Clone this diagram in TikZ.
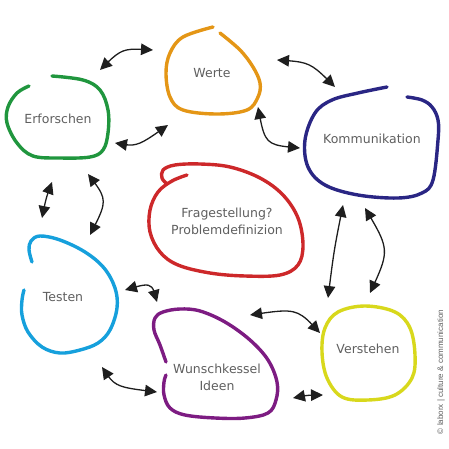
\documentclass[tikz,border=0pt]{standalone}
\usepackage{fontspec}
\setmainfont{DejaVu Sans}
\newfontfamily\copyfont{Liberation Sans}
\usetikzlibrary{arrows.meta,bending}
\definecolor{cWerte}{RGB}{228,150,22}
\definecolor{cErf}{RGB}{32,150,62}
\definecolor{cKomm}{RGB}{42,38,132}
\definecolor{cRed}{RGB}{205,40,42}
\definecolor{cTest}{RGB}{22,160,220}
\definecolor{cWun}{RGB}{125,28,130}
\definecolor{cVer}{RGB}{216,216,28}
\definecolor{cTxt}{RGB}{95,95,95}
\definecolor{cArr}{RGB}{30,30,30}
\tikzset{
  blob/.style={line width=3.4pt, line cap=round, line join=round},
  lbl/.style={text=cTxt, font=\fontsize{12.5}{17}\selectfont, align=center, inner sep=0pt},
  dbl/.style={draw=cArr, line width=1.3pt, {Triangle[length=12pt,width=11.5pt]}-{Triangle[length=12pt,width=11.5pt]}}
}
\begin{document}
\begin{tikzpicture}[x=1pt,y=-1pt]
\useasboundingbox (0,0) rectangle (449,449);
% blobs
\draw[blob,cWerte] plot[smooth,tension=0.6] coordinates {(213,27) (183,37) (170,53) (166,73) (170,97) (183,110) (217,114) (247,110) (258,97) (260,83) (253,67) (240,50) (220,33)};
\draw[blob,cErf] plot[smooth,tension=0.6] coordinates {(29,86) (17,93) (8,107) (7,123) (17,143) (33,156) (60,158) (90,157) (103,150) (108,133) (108,110) (100,90) (83,80) (52,76)};
\draw[blob,cKomm] plot[smooth,tension=0.6] coordinates {(387,87) (358,93) (332,100) (315,113) (305,140) (308,167) (325,185) (358,195) (398,198) (422,193) (433,180) (438,140) (438,120) (432,107) (422,100) (407,97)};
\draw[blob,cVer] plot[smooth cycle,tension=0.6] coordinates {(365,306) (338,312) (325,328) (322,352) (327,378) (342,397) (368,400) (395,395) (412,378) (415,355) (410,328) (395,312)};
\draw[blob,cTest] plot[smooth,tension=0.6] coordinates {(32,262) (29,250) (31,241) (40,236) (60,240) (85,252) (104,268) (115,288) (117,308) (110,330) (98,343) (80,350) (60,353) (42,347) (28,332) (22,315) (22,300) (24,290)};
\draw[blob,cWun] plot[smooth,tension=0.6] coordinates {(166,362) (160,345) (154,330) (155,318) (163,312) (180,309) (200,311) (225,322) (250,340) (268,360) (277,382) (276,400) (268,413) (245,418) (215,418) (185,415) (170,408) (164,395) (164,382) (166,375)};
\draw[blob,cRed] plot[smooth,tension=0.6] coordinates {(187,175) (172,181) (158,192) (150,210) (150,232) (160,252) (178,265) (210,273) (245,276) (280,275) (298,265) (303,245) (298,218) (283,195) (260,178) (230,167) (200,164) (175,165) (163,170) (162,178) (166,183)};
% labels
\node[lbl] (werte) at (212,73) {Werte};
\node[lbl] (erf) at (58,119) {Erforschen};
\node[lbl] (komm) at (372,139) {Kommunikation};
\node[lbl] (frage) at (227,221) {Fragestellung?\\Problemdefinizion};
\node[lbl] (testen) at (63,297) {Testen};
\node[lbl] (wunsch) at (217,377) {Wunschkessel\\Ideen};
\node[lbl] (verst) at (368,349) {Verstehen};
\node[text=cTxt, font=\copyfont\fontsize{8}{9}\selectfont, rotate=90, inner sep=0pt] (copy) at (441,372) {© laborx | culture \& communication};
% arrow ends
\coordinate (a1) at (100,70);  \coordinate (b1) at (153,50);
\coordinate (a2) at (115,143); \coordinate (b2) at (168,125);
\coordinate (a3) at (277,60);  \coordinate (b3) at (335,87);
\coordinate (a4) at (258,107); \coordinate (b4) at (300,148);
\coordinate (a5) at (52,182);  \coordinate (b5) at (42,218);
\coordinate (a6) at (88,174);  \coordinate (b6) at (90,235);
\coordinate (a7) at (343,205); \coordinate (b7) at (328,298);
\coordinate (a8) at (365,208); \coordinate (b8) at (370,293);
\coordinate (a9) at (125,290); \coordinate (b9) at (157,302);
\coordinate (a10) at (102,367); \coordinate (b10) at (157,392);
\coordinate (a11) at (250,315); \coordinate (b11) at (320,333);
\coordinate (a12) at (293,398); \coordinate (b12) at (323,395);
% arrows
\draw[dbl] (a1) .. controls (122,48) .. (b1);
\draw[dbl] (a2) .. controls (137,147) .. (b2);
\draw[dbl] (a3) .. controls (310,62) .. (b3);
\draw[dbl] (a4) .. controls (265,145) .. (b4);
\draw[dbl] (a5) .. controls (46,198) .. (b5);
\draw[dbl] (a6) .. controls (108,200) .. (b6);
\draw[dbl] (a7) .. controls (334,250) .. (b7);
\draw[dbl] (a8) .. controls (390,250) .. (b8);
\draw[dbl] (a9) .. controls (152,282) .. (b9);
\draw[dbl] (a10) .. controls (115,387) .. (b10);
\draw[dbl] (a11) .. controls (297,308) .. (b11);
\draw[dbl] (a12) .. controls (308,395) .. (b12);
\end{tikzpicture}
\end{document}
